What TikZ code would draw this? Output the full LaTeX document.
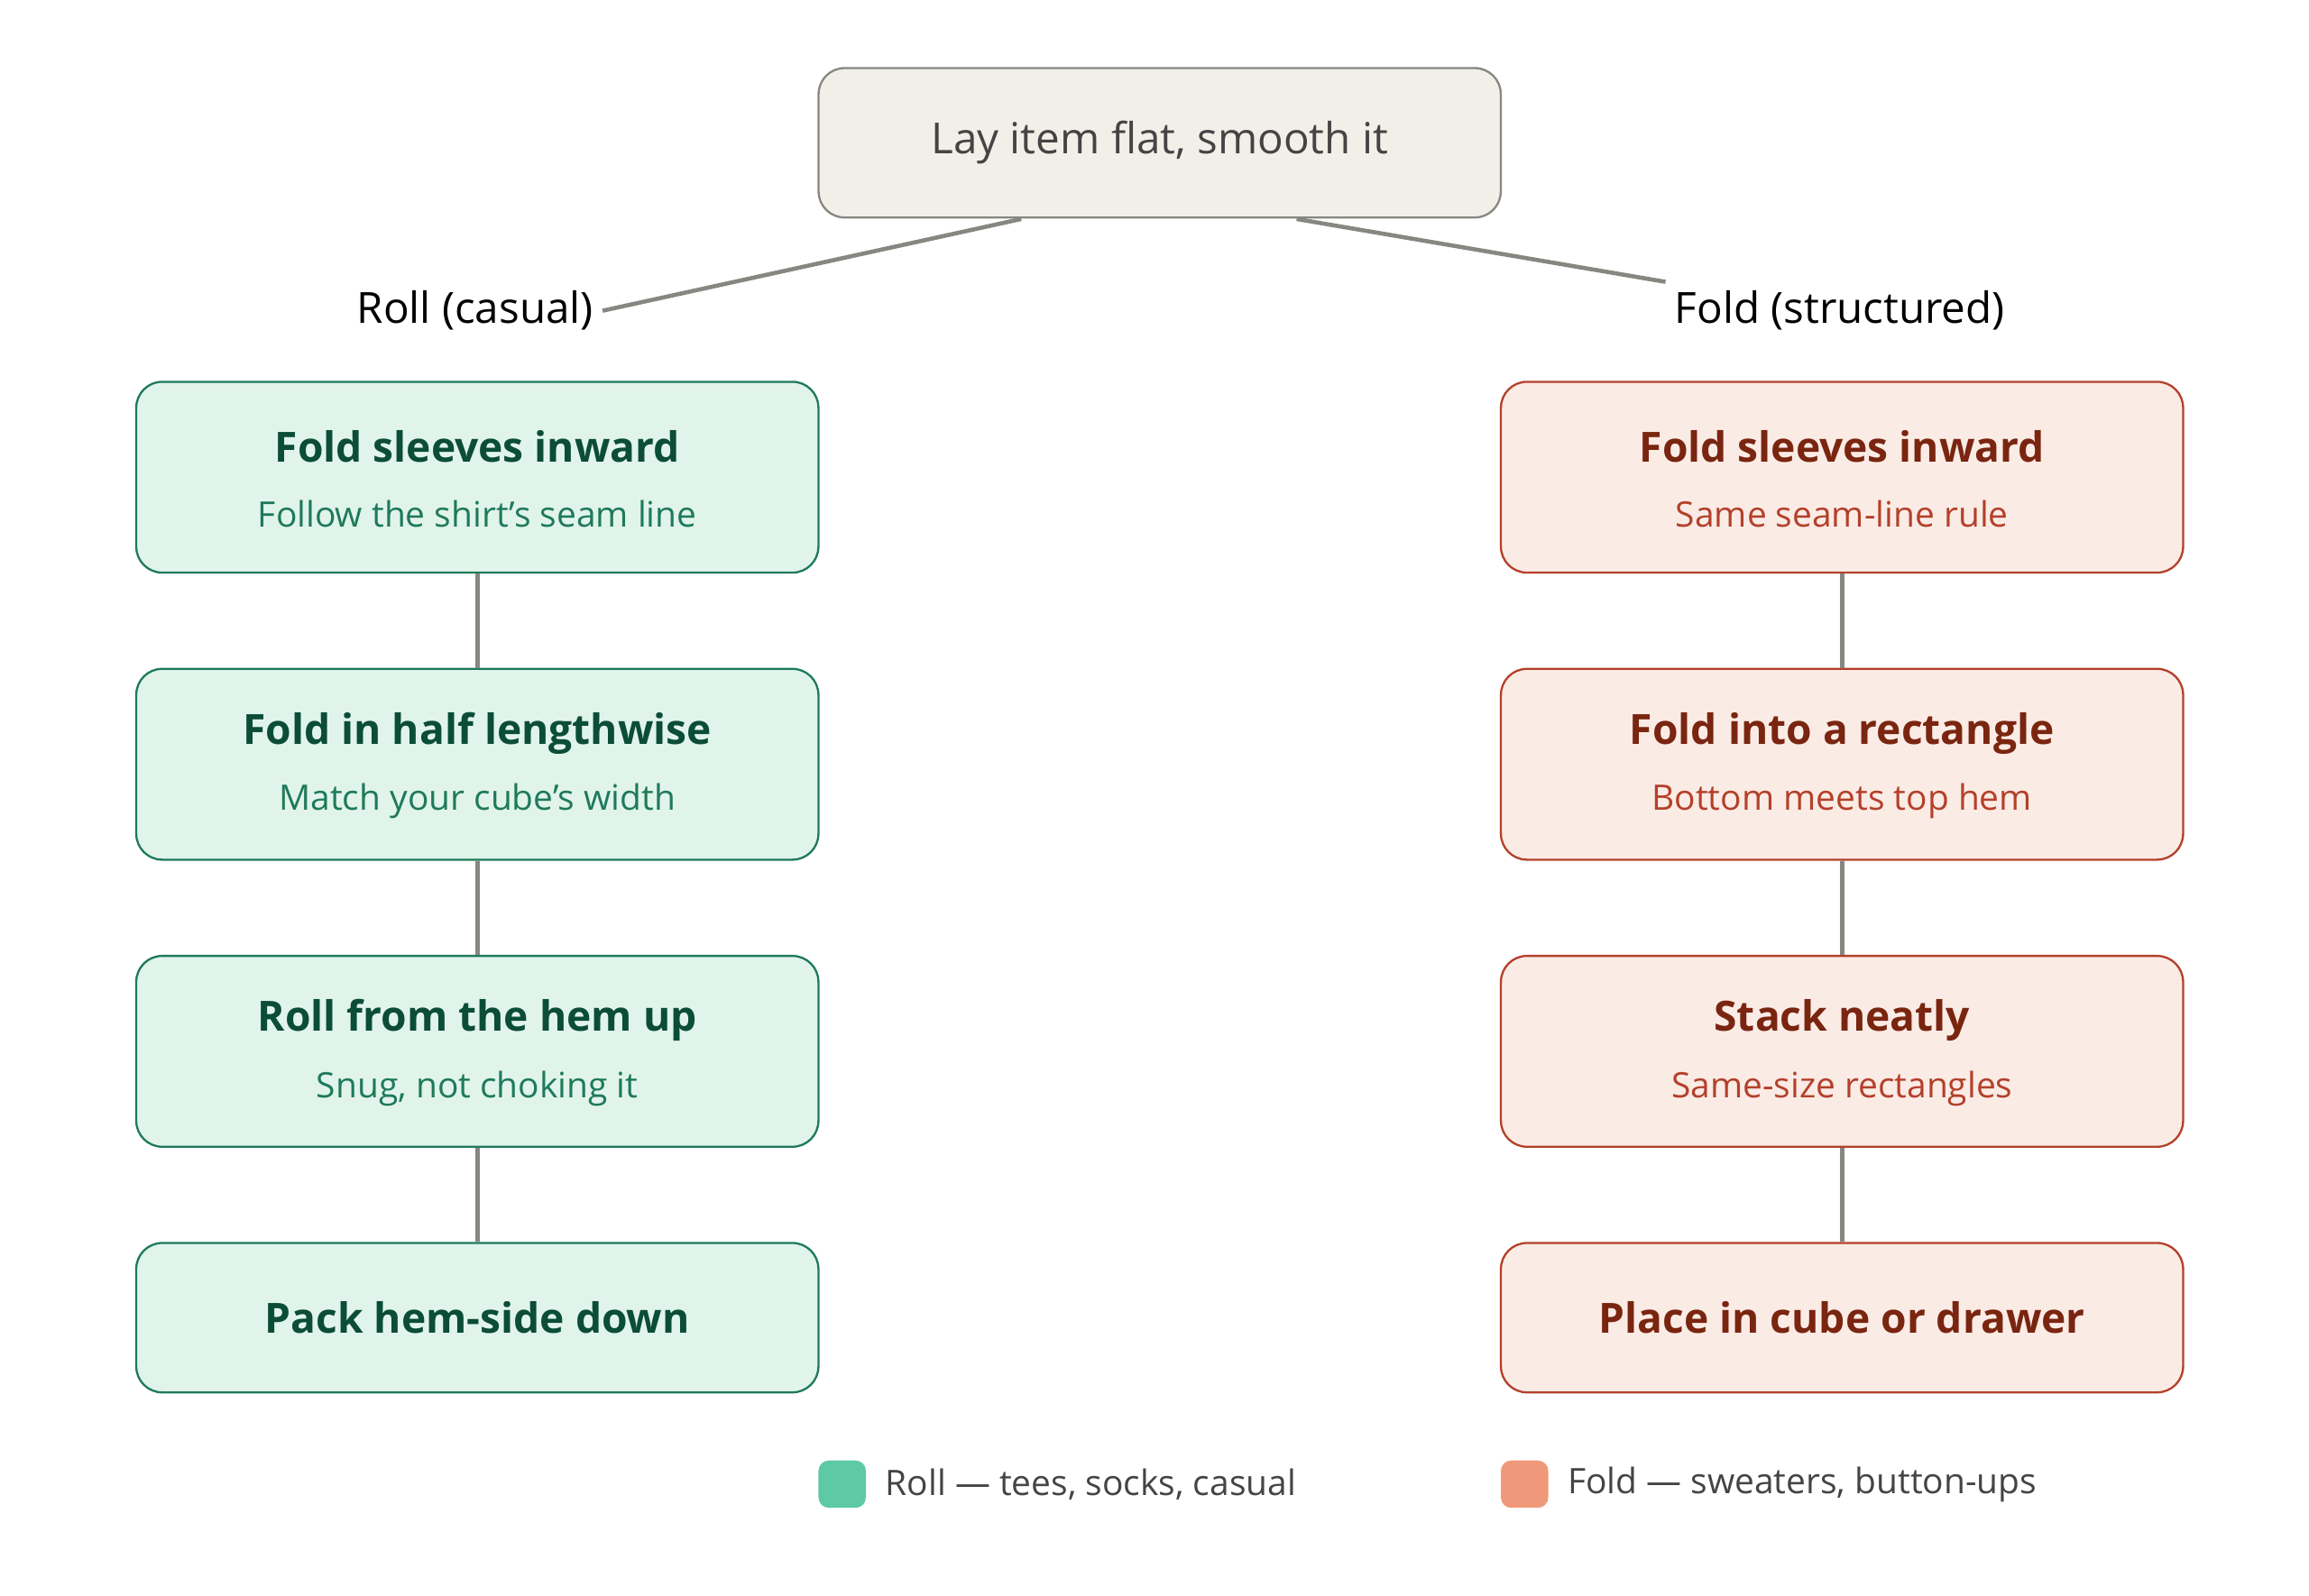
\documentclass[tikz,border=0pt]{standalone}
\usepackage{fontspec}
\setmainfont{Open Sans}
\usetikzlibrary{positioning}
\definecolor{rollfill}{HTML}{E1F4EC}
\definecolor{rolldraw}{HTML}{1E7A5A}
\definecolor{rolltitle}{HTML}{0B4D37}
\definecolor{foldfill}{HTML}{FAEBE5}
\definecolor{folddraw}{HTML}{B4472C}
\definecolor{foldtitle}{HTML}{7A2510}
\definecolor{foldsub}{HTML}{B4402A}
\definecolor{topfill}{HTML}{F2EFE9}
\definecolor{edgegray}{HTML}{878782}
\definecolor{textgray}{HTML}{444444}
\tikzset{
    box/.style={draw, rounded corners=10pt, line width=0.8pt, minimum width=9.22cm, minimum height=2.58cm},
    rollbox/.style={box, fill=rollfill, draw=rolldraw},
    foldbox/.style={box, fill=foldfill, draw=foldsub},
    title/.style={font=\fontsize{16}{19}\selectfont\bfseries},
    sub/.style={font=\fontsize{13.5}{16}\selectfont},
    link/.style={draw=edgegray, line width=1.6pt},
}
\begin{document}
\begin{tikzpicture}[x=0.02cm, y=-0.02cm]
    \useasboundingbox (0,0) rectangle (1560,1078);
    % top
    \node[box, fill=topfill, draw=edgegray, minimum height=2.02cm] (top) at (783.5,96.5) {};
    \node[font=\fontsize{16.5}{19}\selectfont, text=textgray] at (top) {Lay item flat, smooth it};
    \node[font=\fontsize{16.5}{19}\selectfont] (rolllbl) at (321,210) {Roll (casual)};
    \node[font=\fontsize{16.5}{19}\selectfont] (foldlbl) at (1243,210) {Fold (structured)};
    \coordinate (tl) at (690,148);
    \coordinate (tr) at (876,148);
    \draw[link] (tl) -- (rolllbl.east);
    \draw[link] (tr) -- (foldlbl.north west);
    % roll column
    \node[rollbox] (r1) at (322.5,322.5) {};
    \node[rollbox] (r2) at (322.5,516.5) {};
    \node[rollbox] (r3) at (322.5,710.5) {};
    \node[rollbox, minimum height=2.02cm] (r4) at (322.5,890.5) {};
    % fold column
    \node[foldbox] (f1) at (1244.5,322.5) {};
    \node[foldbox] (f2) at (1244.5,516.5) {};
    \node[foldbox] (f3) at (1244.5,710.5) {};
    \node[foldbox, minimum height=2.02cm] (f4) at (1244.5,890.5) {};
    \foreach \a/\b in {r1/r2,r2/r3,r3/r4,f1/f2,f2/f3,f3/f4}
        \draw[link] (\a.south) -- (\b.north);
    % texts
    \foreach \n/\t/\s in {r1/Fold sleeves inward/Follow the shirt's seam line,
                          r2/Fold in half lengthwise/Match your cube's width,
                          r3/Roll from the hem up/{Snug, not choking it}} {
        \node[title, text=rolltitle] at ([yshift=0.42cm]\n) {\t};
        \node[sub, text=rolldraw] at ([yshift=-0.5cm]\n) {\s};
    }
    \foreach \n/\t/\s in {f1/Fold sleeves inward/Same seam-line rule,
                          f2/Fold into a rectangle/Bottom meets top hem,
                          f3/Stack neatly/Same-size rectangles} {
        \node[title, text=foldtitle] at ([yshift=0.42cm]\n) {\t};
        \node[sub, text=foldsub] at ([yshift=-0.5cm]\n) {\s};
    }
    \node[title, text=rolltitle] at (r4) {Pack hem-side down};
    \node[title, text=foldtitle] at (f4) {Place in cube or drawer};
    % legend
    \fill[rounded corners=4pt, fill={rgb,255:red,93;green,201;blue,165}] (553,987) rectangle (585,1019);
    \node[sub, text=textgray, anchor=west] (leg1) at (592,1003) {Roll — tees, socks, casual};
    \fill[rounded corners=4pt, fill={rgb,255:red,240;green,153;blue,122}] (1014,987) rectangle (1046,1019);
    \node[sub, text=textgray, anchor=west] (leg2) at (1053,1003) {Fold — sweaters, button-ups};
\end{tikzpicture}
\end{document}
